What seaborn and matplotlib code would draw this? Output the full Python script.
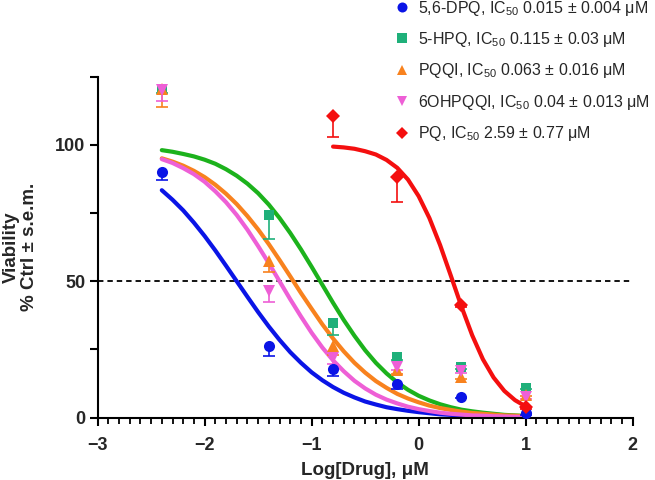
import matplotlib
matplotlib.use('Agg')
import matplotlib.pyplot as plt
import numpy as np
import seaborn as sns

# Log[Drug] das doses (diluição 4x)
log_dose = [-2.4, -1.4, -0.8, -0.2, 0.4, 1.0]
log_dose_pq = [-0.8, -0.2, 0.4, 1.0]

# Médias e erros (s.e.m.)
dpq_mean = [90.0, 26.1, 17.8, 12.3, 7.7, 1.6]
dpq_sem = [3.0, 3.4, 2.7, 1.9, 0.5, 0.5]
hpq_mean = [120.2, 74.2, 34.7, 22.1, 18.5, 11.0]
hpq_sem = [1.0, 8.7, 4.3, 1.0, 0.8, 0.5]
pqqi_mean = [120.5, 57.4, 26.1, 17.5, 14.8, 8.3]
pqqi_sem = [6.7, 4.0, 3.0, 1.5, 0.8, 0.5]
ohpqqi_mean = [120.0, 46.3, 21.8, 18.5, 17.2, 7.4]
ohpqqi_sem = [4.0, 3.9, 2.0, 1.0, 0.8, 0.5]
pq_mean = [110.7, 88.4, 41.4, 4.0]
pq_sem = [7.7, 9.3, 1.0, 1.0]

# Curvas ajustadas
curve_x = [-2.4, -2.3, -2.2, -2.1, -2.0, -1.9, -1.8, -1.7, -1.6, -1.5, -1.4, -1.3,
           -1.2, -1.1, -1.0, -0.9, -0.8, -0.7, -0.6, -0.5, -0.4, -0.3, -0.2, -0.1,
           0.0, 0.1, 0.2, 0.3, 0.4, 0.5, 0.6, 0.7, 0.8, 0.9, 1.0]
dpq_curve = [83.4, 79.9, 76.0, 71.5, 66.6, 61.3, 55.7, 50.0, 44.3, 38.7, 33.4, 28.5,
             24.0, 20.1, 16.6, 13.7, 11.2, 9.1, 7.4, 5.9, 4.8, 3.8, 3.1, 2.5,
             2.0, 1.6, 1.2, 1.0, 0.8, 0.6, 0.5, 0.4, 0.3, 0.25, 0.2]
hpq_curve = [98.1, 97.5, 96.7, 95.8, 94.6, 93.1, 91.1, 88.7, 85.8, 82.3, 78.1, 73.2,
             67.7, 61.7, 55.3, 48.7, 42.1, 35.8, 30.0, 24.7, 20.1, 16.2, 12.9, 10.2,
             8.0, 6.3, 4.9, 3.8, 2.9, 2.3, 1.8, 1.4, 1.0, 0.8, 0.6]
pqqi_curve = [95.1, 93.9, 92.4, 90.5, 88.2, 85.4, 82.1, 78.3, 73.9, 69.0, 63.6, 57.8,
              51.8, 45.7, 39.9, 34.2, 29.0, 24.3, 20.1, 16.5, 13.4, 10.9, 8.7, 7.0,
              5.6, 4.4, 3.5, 2.8, 2.2, 1.7, 1.4, 1.1, 0.8, 0.7, 0.5]
ohpqqi_curve = [94.8, 93.4, 91.5, 89.3, 86.5, 83.0, 79.0, 74.3, 68.9, 62.9, 56.6, 50.0,
                43.4, 37.1, 31.1, 25.7, 21.0, 17.0, 13.5, 10.7, 8.4, 6.6, 5.2, 4.0,
                3.1, 2.4, 1.8, 1.4, 1.1, 0.8, 0.7, 0.5, 0.4, 0.3, 0.2]
pq_curve_x = [-0.8, -0.7, -0.6, -0.5, -0.4, -0.3, -0.2, -0.1, 0.0,
              0.1, 0.2, 0.3, 0.4, 0.5, 0.6, 0.7, 0.8, 0.9, 1.0]
pq_curve = [99.4, 99.1, 98.6, 97.7, 96.5, 94.5, 91.6, 87.3, 81.2,
            73.2, 63.3, 52.1, 40.7, 30.2, 21.4, 14.7, 9.8, 6.4, 4.1]

labels = [
    r'5,6-DPQ, IC$_{50}$ 0.015 ± 0.004 μM',
    r'5-HPQ, IC$_{50}$ 0.115 ± 0.03 μM',
    r'PQQI, IC$_{50}$ 0.063 ± 0.016 μM',
    r'6OHPQQI, IC$_{50}$ 0.04 ± 0.013 μM',
    r'PQ, IC$_{50}$ 2.59 ± 0.77 μM',
]

sns.set_style('ticks')
plt.rcParams['font.family'] = ['Liberation Sans', 'DejaVu Sans']
plt.rcParams['mathtext.fontset'] = 'custom'
plt.rcParams['mathtext.rm'] = 'Liberation Sans'
plt.rcParams['mathtext.it'] = 'Liberation Sans'
plt.rcParams['axes.unicode_minus'] = True

fig = plt.figure(figsize=(6.55, 4.8), dpi=100)
ax = fig.add_axes([0.149, 0.130, 0.817, 0.710])

series = [
    (log_dose, dpq_mean, dpq_sem, curve_x, dpq_curve, '#0a14e6', '#0a14e6', 'o', 8),
    (log_dose, hpq_mean, hpq_sem, curve_x, hpq_curve, '#1fb07a', '#1cb21c', 's', 7.5),
    (log_dose, pqqi_mean, pqqi_sem, curve_x, pqqi_curve, '#f8821e', '#f8821e', '^', 8.5),
    (log_dose, ohpqqi_mean, ohpqqi_sem, curve_x, ohpqqi_curve, '#ee5fd6', '#ee5fd6', 'v', 8.5),
    (log_dose_pq, pq_mean, pq_sem, pq_curve_x, pq_curve, '#f40f0f', '#f40f0f', 'D', 7),
]

# Linha de referência em 50%
ax.axhline(50, color='black', lw=1.3, ls=(0, (3, 2.2)), zorder=1)

# Curvas
for xs, m, s, cx, cy, mc, lc, mk, ms in series:
    sns.lineplot(x=cx, y=cy, color=lc, lw=3, ax=ax, sort=False, zorder=2)

# Pontos com barras de erro (somente para baixo)
handles = []
for (xs, m, s, cx, cy, mc, lc, mk, ms), lab in zip(series, labels):
    low = np.array(m) - np.array(s)
    ax.vlines(xs, low, m, color=mc, lw=1.2, zorder=3)
    ax.plot(xs, low, ls='none', marker='_', markersize=8, markeredgewidth=1.2,
            color=mc, zorder=3)
    h, = ax.plot(xs, m, ls='none', marker=mk, markersize=ms, color=mc,
                 markeredgewidth=0, zorder=4, label=lab, clip_on=False)
    handles.append(h)

ax.set_xlim(-3, 2)
ax.set_ylim(0, 125)
ax.set_xticks([-3, -2, -1, 0, 1, 2])
ax.set_xticks(np.arange(-3, 2.01, 0.1), minor=True)
ax.set_yticks([0, 25, 50, 75, 100, 125])
ax.set_yticklabels(['0', '', '50', '', '100', ''])
ax.set_xticklabels(['−3', '−2', '−1', '0', '1', '2'])

for lab in ax.get_xticklabels() + ax.get_yticklabels():
    lab.set_fontweight('bold')
    lab.set_fontsize(13)

ax.tick_params(axis='both', which='major', length=6, width=1.5, direction='out', color='black')
ax.tick_params(axis='x', which='major', pad=8)
ax.tick_params(axis='y', which='major', pad=3)
ax.tick_params(axis='x', which='minor', length=4, width=1.3, color='black')
sns.despine(ax=ax)
for sp in ['left', 'bottom']:
    ax.spines[sp].set_linewidth(1.5)
    ax.spines[sp].set_color('black')

ax.set_xlabel('Log[Drug], μM', fontsize=13.5, fontweight='bold', labelpad=6)
ax.set_ylabel('Viability\n% Ctrl ± s.e.m.', fontsize=13.5, fontweight='bold',
              labelpad=12, linespacing=1.1)

fig.legend(handles, labels, loc='upper left', bbox_to_anchor=(0.602, 1.003),
           frameon=False, fontsize=11.5, handlelength=1.0, handletextpad=0.5,
           labelspacing=0.78, borderpad=0, borderaxespad=0, markerscale=0.9)

fig.savefig('out.png', dpi=100)
